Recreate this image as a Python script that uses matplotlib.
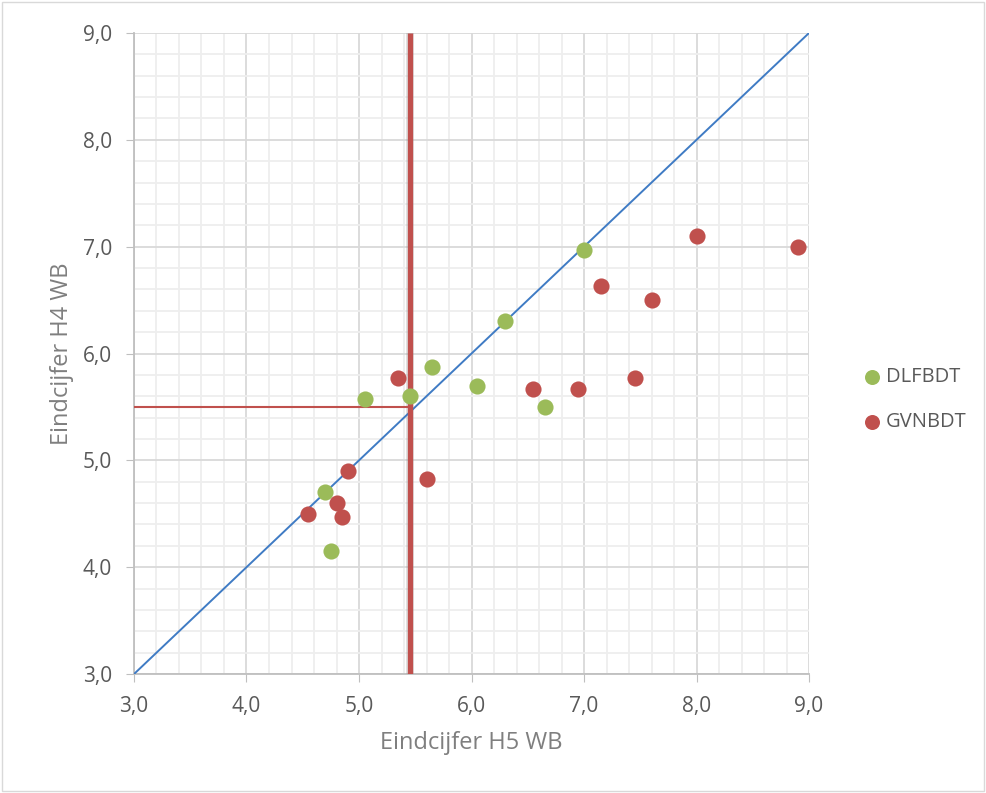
import numpy as np
import matplotlib.pyplot as plt
from matplotlib.ticker import MultipleLocator, FuncFormatter
from matplotlib.patches import Rectangle

# DLFBDT (green) points
dlf_h5 = [4.70, 4.75, 5.05, 5.45, 5.65, 6.05, 6.30, 6.65, 7.00]
dlf_h4 = [4.70, 4.15, 5.57, 5.60, 5.87, 5.70, 6.30, 5.50, 6.97]

# GVNBDT (red) points
gvn_h5 = [4.55, 4.80, 4.85, 4.90, 5.35, 5.60, 6.55, 6.95, 7.15, 7.45, 7.60, 8.00, 8.90]
gvn_h4 = [4.50, 4.60, 4.47, 4.90, 5.77, 4.83, 5.67, 5.67, 6.63, 5.77, 6.50, 7.10, 7.00]

# reference lines
diag = [3.0, 9.0]
cut_h5 = 5.45
cut_h4 = 5.5
axis_min, axis_max = 3.0, 9.0

green = '#9BBB59'
red = '#C0504D'
blue = '#3F7BC4'
plt.rcParams['font.family'] = ['Open Sans', 'DejaVu Sans']

fig = plt.figure(figsize=(9.86, 7.93), dpi=100)
ax = fig.add_axes([0.1359, 0.150, 0.6846, 0.8084])

# figure border
fig.patches.append(Rectangle((0.002, 0.003), 0.996, 0.994, transform=fig.transFigure,
                             fill=False, edgecolor='#d9d9d9', linewidth=1))

ax.set_xlim(axis_min, axis_max)
ax.set_ylim(axis_min, axis_max)
ax.xaxis.set_major_locator(MultipleLocator(1))
ax.yaxis.set_major_locator(MultipleLocator(1))
ax.xaxis.set_minor_locator(MultipleLocator(0.2))
ax.yaxis.set_minor_locator(MultipleLocator(0.2))
fmt = FuncFormatter(lambda v, p: f"{v:.1f}".replace('.', ','))
ax.xaxis.set_major_formatter(fmt)
ax.yaxis.set_major_formatter(fmt)

ax.grid(which='major', color='#d9d9d9', linewidth=1.3)
ax.grid(which='minor', color='#eeeeee', linewidth=1.3)
ax.set_axisbelow(True)

for s in ['top', 'right']:
    ax.spines[s].set_visible(False)
for s in ['left', 'bottom']:
    ax.spines[s].set_color('#bfbfbf')
    ax.spines[s].set_linewidth(1.3)

ax.tick_params(which='major', length=5.8, color='#bfbfbf', labelsize=15,
               labelcolor='#595959', pad=10)
ax.tick_params(which='minor', length=0)

# diagonal
ax.plot(diag, diag, color=blue, linewidth=1.4, zorder=3)

# threshold lines (vertical one with a soft shadow)
ax.plot([axis_min, cut_h5], [cut_h4, cut_h4], color=red, linewidth=1.5, zorder=3)
ax.plot([cut_h5 + 0.006, cut_h5 + 0.006], [axis_min, axis_max], color='#999999',
        alpha=0.35, linewidth=5.5, zorder=2.9, solid_capstyle='butt')
ax.plot([cut_h5, cut_h5], [axis_min, axis_max], color=red, linewidth=3.8,
        zorder=3, solid_capstyle='butt')

ax.scatter(dlf_h5, dlf_h4, s=135, color=green, label='DLFBDT', zorder=4, linewidths=0)
ax.scatter(gvn_h5, gvn_h4, s=135, color=red, label='GVNBDT', zorder=4, linewidths=0)

ax.set_xlabel('Eindcijfer H5 WB', fontsize=17, color='#7f7f7f', labelpad=10)
ax.set_ylabel('Eindcijfer H4 WB', fontsize=17, color='#7f7f7f', labelpad=6)

leg = ax.legend(loc='center left', bbox_to_anchor=(1.063, 0.428), frameon=False,
                fontsize=14.5, handletextpad=0.2, handlelength=1.0, borderpad=0,
                labelspacing=1.25, markerscale=0.93)
for t in leg.get_texts():
    t.set_color('#595959')

fig.savefig('out.png', dpi=100)
